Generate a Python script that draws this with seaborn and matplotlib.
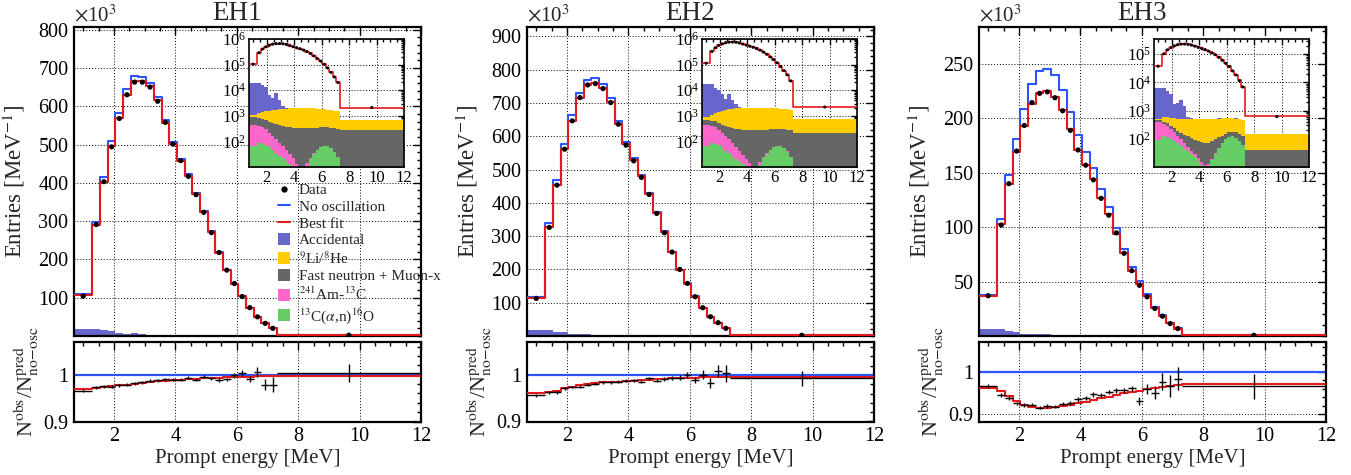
import numpy as np
import pandas as pd
import matplotlib
matplotlib.use("Agg")
import matplotlib.pyplot as plt
import seaborn as sns
from matplotlib.ticker import MultipleLocator, LogLocator, NullFormatter, FixedLocator, LogFormatterMathtext
from matplotlib.lines import Line2D
from matplotlib.patches import Patch

# ---------------- data ----------------
bin_edges = [0.7, 1.3, 1.55, 1.8, 2.05, 2.3, 2.55, 2.8, 3.05, 3.3, 3.55, 3.8, 4.05, 4.3,
             4.55, 4.8, 5.05, 5.3, 5.55, 5.8, 6.05, 6.3, 6.55, 6.8, 7.05, 7.3, 12.0]

hall_names = ["EH1", "EH2", "EH3"]

# main panel: entries per MeV (x10^3)
data_eh1 = [104, 291, 403, 494, 568, 630, 663, 663, 650, 613, 558, 501, 458, 417, 369, 323, 270, 218, 172, 137, 103, 74, 50, 33, 20, 2.1]
fit_eh1 = [106, 289, 403, 496, 570, 630, 665, 665, 652, 616, 557, 501, 457, 418, 370, 323, 272, 218, 172, 136, 104, 72, 50, 33, 20, 2.1]
nosc_eh1 = [109, 297, 414, 509, 583, 644, 678, 676, 662, 625, 564, 507, 462, 422, 373, 326, 274, 219, 173, 137, 104, 72, 50, 33, 20, 2.1]

data_eh2 = [113, 326, 453, 561, 646, 716, 754, 758, 743, 701, 636, 573, 526, 476, 425, 368, 310, 252, 200, 158, 118, 85, 58, 40, 23, 2.2]
fit_eh2 = [113, 328, 453, 561, 646, 715, 755, 760, 745, 703, 638, 576, 528, 480, 426, 370, 313, 251, 198, 157, 118, 83, 58, 38, 23, 2.2]
nosc_eh2 = [118, 340, 469, 577, 663, 731, 770, 774, 757, 714, 647, 584, 534, 485, 430, 373, 316, 253, 199, 158, 119, 83, 58, 38, 23, 2.2]

data_eh3 = [37, 102, 140, 170, 193.5, 214.5, 223, 224.4, 219, 207, 189, 171, 157, 143.5, 126.5, 111, 94.8, 76, 60, 46.6, 36, 25.3, 18.2, 11.4, 6.8, 0.61]
fit_eh3 = [36.7, 102.5, 140, 169, 193, 213, 223.5, 225, 220, 208, 190, 171, 157, 144, 126.5, 112, 94, 76, 60, 48, 36.7, 25.3, 18.2, 12, 6.8, 0.63]
nosc_eh3 = [38.1, 107.3, 148.3, 181.5, 209, 232, 244, 245.5, 240, 226, 206, 184.7, 168.8, 154, 135, 119, 99.4, 80, 63, 50.2, 38.3, 26.3, 18.9, 12.4, 7.0, 0.65]

# ratio panel: N_obs / N_pred(no-osc)
rdata_eh1 = [0.966, 0.973, 0.975, 0.974, 0.977, 0.979, 0.982, 0.984, 0.987, 0.988, 0.990, 0.989, 0.989, 0.994, 0.989, 0.996, 0.992, 0.989, 0.990, 0.999, 1.004, 0.991, 1.006, 0.979, 0.979, 1.004]
rerr_eh1 = [0.003, 0.003, 0.003, 0.003, 0.003, 0.003, 0.003, 0.003, 0.003, 0.003, 0.003, 0.003, 0.003, 0.003, 0.003, 0.003, 0.004, 0.004, 0.004, 0.005, 0.006, 0.007, 0.011, 0.012, 0.016, 0.019]
rfit_eh1 = [0.969, 0.972, 0.974, 0.975, 0.977, 0.979, 0.981, 0.983, 0.985, 0.986, 0.987, 0.988, 0.989, 0.990, 0.991, 0.992, 0.993, 0.994, 0.995, 0.995, 0.996, 0.996, 0.997, 0.997, 0.998, 0.998]

rdata_eh2 = [0.956, 0.963, 0.963, 0.971, 0.974, 0.975, 0.979, 0.981, 0.984, 0.984, 0.986, 0.988, 0.989, 0.986, 0.993, 0.988, 0.991, 0.994, 0.994, 1.000, 0.989, 1.001, 0.982, 1.009, 1.004, 0.993]
rerr_eh2 = [0.003, 0.003, 0.003, 0.003, 0.003, 0.003, 0.003, 0.003, 0.003, 0.003, 0.003, 0.003, 0.003, 0.003, 0.003, 0.004, 0.004, 0.004, 0.005, 0.007, 0.007, 0.009, 0.011, 0.013, 0.018, 0.016]
rfit_eh2 = [0.961, 0.964, 0.966, 0.972, 0.975, 0.978, 0.980, 0.982, 0.984, 0.985, 0.986, 0.987, 0.988, 0.989, 0.990, 0.991, 0.992, 0.993, 0.993, 0.994, 0.994, 0.995, 0.995, 0.996, 0.996, 0.996]

rdata_eh3 = [0.966, 0.945, 0.939, 0.926, 0.922, 0.923, 0.916, 0.920, 0.918, 0.924, 0.927, 0.935, 0.938, 0.947, 0.945, 0.953, 0.957, 0.957, 0.961, 0.932, 0.959, 0.951, 0.977, 0.967, 0.984, 0.966]
rerr_eh3 = [0.005, 0.005, 0.005, 0.004, 0.004, 0.004, 0.004, 0.004, 0.004, 0.004, 0.004, 0.005, 0.005, 0.005, 0.005, 0.005, 0.006, 0.006, 0.007, 0.009, 0.012, 0.016, 0.020, 0.025, 0.027, 0.030]
rfit_eh3 = [0.9625, 0.955, 0.944, 0.931, 0.923, 0.918, 0.916, 0.916, 0.917, 0.919, 0.922, 0.926, 0.930, 0.934, 0.938, 0.942, 0.946, 0.950, 0.953, 0.956, 0.959, 0.962, 0.965, 0.967, 0.969, 0.972]

# backgrounds: entries per MeV
alphan_eh1 = [68, 90, 88, 74, 58, 45, 35, 27, 22, 17, 13, 10, 5, 3, 4, 10, 20, 33, 45, 58, 66, 68, 55, 38, 25, 1]
amc_eh1 = [380, 300, 270, 220, 160, 120, 90, 62, 42, 28, 18, 12, 8, 6, 5, 4, 3, 2.5, 2, 1.6, 1.3, 1, 0.8, 0.6, 0.5, 0.1]
fastn_eh1 = [420, 400, 380, 365, 355, 350, 345, 340, 335, 330, 325, 320, 318, 315, 312, 310, 305, 302, 300, 298, 295, 292, 290, 288, 285, 275]
lihe_eh1 = [250, 480, 650, 850, 1000, 1150, 1280, 1380, 1460, 1530, 1580, 1620, 1650, 1660, 1660, 1650, 1630, 1600, 1560, 1510, 1450, 1390, 1320, 1250, 1180, 430]
acc_eh1 = [17600, 17200, 14600, 11500, 5000, 3200, 5800, 2500, 600, 150, 60, 30, 20, 15, 10, 8, 6, 5, 4, 3, 3, 2, 2, 2, 2, 1]

alphan_eh2 = [66, 84, 82, 70, 55, 42, 34, 27, 21, 17, 13, 10, 6, 4, 5, 12, 22, 33, 46, 58, 65, 66, 55, 40, 25, 1]
amc_eh2 = [390, 310, 280, 220, 160, 120, 85, 58, 38, 25, 16, 11, 8, 6, 5, 4, 3, 2.5, 2, 1.6, 1.3, 1, 0.8, 0.6, 0.5, 0.1]
fastn_eh2 = [260, 250, 245, 240, 240, 242, 245, 248, 250, 252, 255, 256, 258, 258, 258, 257, 256, 255, 254, 252, 250, 248, 246, 244, 242, 220]
lihe_eh2 = [200, 480, 650, 900, 1100, 1300, 1420, 1530, 1620, 1690, 1740, 1760, 1770, 1770, 1770, 1760, 1750, 1730, 1700, 1660, 1620, 1570, 1520, 1480, 1440, 500]
acc_eh2 = [16800, 15900, 11000, 9200, 5300, 3000, 5400, 2400, 850, 150, 60, 30, 20, 15, 10, 8, 6, 5, 4, 3, 3, 2, 2, 2, 2, 1]

alphan_eh3 = [92, 128, 120, 100, 82, 68, 56, 45, 36, 28, 22, 16, 12, 10, 11, 18, 30, 48, 70, 95, 115, 125, 110, 85, 60, 1]
amc_eh3 = [290, 210, 170, 125, 90, 60, 40, 25, 15, 9, 6, 4, 3, 2, 1.5, 1.2, 1, 0.8, 0.6, 0.5, 0.4, 0.3, 0.3, 0.2, 0.2, 0.05]
fastn_eh3 = [70, 68, 67, 66, 66, 67, 68, 70, 70, 68, 66, 64, 62, 60, 60, 62, 64, 62, 58, 55, 55, 55, 60, 65, 65, 40]
lihe_eh3 = [60, 170, 230, 270, 300, 325, 340, 350, 370, 390, 405, 420, 425, 428, 428, 426, 420, 410, 398, 385, 370, 360, 350, 345, 340, 110]
acc_eh3 = [5950, 5560, 4350, 3150, 1100, 1260, 1770, 950, 110, 40, 20, 12, 8, 6, 5, 4, 3, 3, 2, 2, 2, 1.5, 1.5, 1.5, 1.5, 0.5]

bkg_labels = ["Accidental", r"$^{9}$Li/$^{8}$He", "Fast neutron + Muon-x",
              r"$^{241}$Am-$^{13}$C", r"$^{13}$C($\alpha$,n)$^{16}$O"]
main_yticks_eh1 = [100, 200, 300, 400, 500, 600, 700, 800]
main_yticks_eh2 = [100, 200, 300, 400, 500, 600, 700, 800, 900]
main_yticks_eh3 = [50, 100, 150, 200, 250]
inset_yticks = [1e2, 1e3, 1e4, 1e5, 1e6]

# ---------------- style ----------------
sns.set_theme(style="white")
plt.rcParams["font.family"] = ["Liberation Serif", "DejaVu Serif"]
plt.rcParams["mathtext.fontset"] = "stix"

C_ACC = "#6666cc"
C_LI = "#ffcc00"
C_FN = "#666666"
C_AMC = "#ff66cc"
C_AN = "#66cc66"
C_BLUE = "#2a55ff"
C_RED = "#e3191c"
GRID_KW = dict(color="black", linestyle=(0, (1, 2)), linewidth=0.7)

edges = np.array(bin_edges)
centers = 0.5 * (edges[1:] + edges[:-1])
halfw = 0.5 * (edges[1:] - edges[:-1])


def ext(v):
    v = np.asarray(v, float)
    return np.append(v, v[-1])


halls = [
    dict(name="EH1", data=data_eh1, fit=fit_eh1, nosc=nosc_eh1, rdata=rdata_eh1, rerr=rerr_eh1,
         rfit=rfit_eh1, bkg=[alphan_eh1, amc_eh1, fastn_eh1, lihe_eh1, acc_eh1],
         yticks=main_yticks_eh1, ytop=807, rlim=(0.9, 1.071), itop=1.0e6, left=74, ileft=249, legend=True),
    dict(name="EH2", data=data_eh2, fit=fit_eh2, nosc=nosc_eh2, rdata=rdata_eh2, rerr=rerr_eh2,
         rfit=rfit_eh2, bkg=[alphan_eh2, amc_eh2, fastn_eh2, lihe_eh2, acc_eh2],
         yticks=main_yticks_eh2, ytop=928, rlim=(0.9, 1.072), itop=1.0e6, left=527, ileft=702, legend=False),
    dict(name="EH3", data=data_eh3, fit=fit_eh3, nosc=nosc_eh3, rdata=rdata_eh3, rerr=rerr_eh3,
         rfit=rfit_eh3, bkg=[alphan_eh3, amc_eh3, fastn_eh3, lihe_eh3, acc_eh3],
         yticks=main_yticks_eh3, ytop=284, rlim=(0.883, 1.072), itop=3.4e5, left=979, ileft=1154, legend=False),
]

W, H = 1351, 475
fig = plt.figure(figsize=(W / 100, H / 100), dpi=100)
fig.patch.set_facecolor("white")

bkg_colors = [C_AN, C_AMC, C_FN, C_LI, C_ACC]


def style_ticks(ax, size, major=6, minor=3):
    ax.tick_params(axis="both", which="both", direction="in", top=True, right=True,
                   labelsize=size, width=1.0, colors="black", pad=4)
    ax.tick_params(axis="both", which="major", length=major)
    ax.tick_params(axis="both", which="minor", length=minor)
    for s in ax.spines.values():
        s.set_linewidth(1.6)
        s.set_color("black")


def draw_stack(ax, bkg, scale, floor):
    cum = np.zeros(len(edges) - 1)
    for vals, col in zip(bkg, bkg_colors):
        top = cum + np.asarray(vals, float) / scale
        ax.fill_between(edges, np.maximum(ext(cum), floor), ext(top), step="post",
                        color=col, linewidth=0, zorder=1)
        cum = top


for h in halls:
    ax = fig.add_axes([h["left"] / W, 1 - 336 / H, 347 / W, 309 / H])
    rax = fig.add_axes([h["left"] / W, 1 - 421.5 / H, 347 / W, 80 / H])
    iax = fig.add_axes([h["ileft"] / W, 1 - 167 / H, 155 / W, 128 / H])

    # ---- main panel ----
    draw_stack(ax, h["bkg"], 1000.0, 0.0)
    sns.lineplot(x=edges, y=ext(h["nosc"]), drawstyle="steps-post", color=C_BLUE,
                 linewidth=1.5, ax=ax, zorder=3, estimator=None)
    sns.lineplot(x=edges, y=ext(h["fit"]), drawstyle="steps-post", color=C_RED,
                 linewidth=1.5, ax=ax, zorder=4, estimator=None)
    sns.scatterplot(x=centers, y=h["data"], color="black", s=14, edgecolor="none",
                    ax=ax, zorder=5)
    ax.set_xlim(0.7, 12)
    ax.set_ylim(0, h["ytop"])
    ax.set_axisbelow(True)
    ax.grid(True, which="major", **GRID_KW)
    ax.xaxis.set_major_locator(MultipleLocator(2))
    ax.xaxis.set_minor_locator(MultipleLocator(0.5))
    ax.yaxis.set_major_locator(FixedLocator(h["yticks"]))
    step = h["yticks"][1] - h["yticks"][0]
    ax.yaxis.set_minor_locator(MultipleLocator(step / 5))
    style_ticks(ax, 14.5)
    ax.tick_params(labelbottom=False)
    ax.set_xlabel("")
    ax.set_ylabel(r"Entries [MeV$^{-1}$]", fontsize=16.5)
    ax.yaxis.set_label_coords(-0.135, 0.5)
    ax.text(0.47, 1.004, h["name"], transform=ax.transAxes, ha="center", va="bottom",
            fontsize=19.5)
    ax.text(0.0, 1.004, r"$\times$10$^{3}$", transform=ax.transAxes, ha="left",
            va="bottom", fontsize=15)

    if h["legend"]:
        handles = [
            Line2D([], [], marker="o", color="black", linestyle="none", markersize=3.5),
            Line2D([], [], color=C_BLUE, linewidth=1.5),
            Line2D([], [], color=C_RED, linewidth=1.5),
            Patch(facecolor=C_ACC, edgecolor="none"),
            Patch(facecolor=C_LI, edgecolor="none"),
            Patch(facecolor=C_FN, edgecolor="none"),
            Patch(facecolor=C_AMC, edgecolor="none"),
            Patch(facecolor=C_AN, edgecolor="none"),
        ]
        labels = ["Data", "No oscillation", "Best fit"] + bkg_labels
        ax.legend(handles, labels, loc="upper left", bbox_to_anchor=(0.588, 0.495),
                  frameon=False, fontsize=11, handlelength=0.8, handleheight=0.8,
                  handletextpad=0.55, labelspacing=0.17, borderaxespad=0.0,
                  borderpad=0.0)
    elif ax.get_legend() is not None:
        ax.get_legend().remove()

    # ---- inset (log) ----
    iax.set_facecolor("white")
    iax.set_yscale("log")
    draw_stack(iax, h["bkg"], 1.0, 1e-2)
    sns.lineplot(x=edges, y=ext(h["fit"]) * 1000, drawstyle="steps-post", color=C_RED,
                 linewidth=1.2, ax=iax, zorder=4, estimator=None)
    sns.scatterplot(x=centers, y=np.asarray(h["data"]) * 1000, color="black", s=5,
                    edgecolor="none", ax=iax, zorder=5)
    iax.set_xlim(0.7, 12)
    iax.set_ylim(10, h["itop"])
    iax.set_axisbelow(True)
    iax.grid(True, which="major", **GRID_KW)
    iax.xaxis.set_major_locator(MultipleLocator(2))
    iax.xaxis.set_minor_locator(MultipleLocator(0.5))
    iax.yaxis.set_major_locator(FixedLocator([t for t in inset_yticks if t <= h["itop"]]))
    iax.yaxis.set_major_formatter(LogFormatterMathtext())
    iax.yaxis.set_minor_locator(LogLocator(base=10, subs=np.arange(2, 10), numticks=10))
    iax.yaxis.set_minor_formatter(NullFormatter())
    style_ticks(iax, 12, major=4, minor=2)
    iax.tick_params(axis="both", which="major", pad=2)
    for s in iax.spines.values():
        s.set_linewidth(1.2)
    iax.set_xlabel("")
    iax.set_ylabel("")

    # ---- ratio panel ----
    rax.axhline(1.0, color=C_BLUE, linewidth=1.6, zorder=2)
    sns.lineplot(x=edges, y=ext(h["rfit"]), drawstyle="steps-post", color=C_RED,
                 linewidth=1.5, ax=rax, zorder=3, estimator=None)
    rax.errorbar(centers, h["rdata"], xerr=halfw, yerr=h["rerr"], fmt="none",
                 ecolor="black", elinewidth=1.0, capsize=0, zorder=4)
    rax.set_xlim(0.7, 12)
    rax.set_ylim(*h["rlim"])
    rax.set_axisbelow(True)
    rax.grid(True, which="major", **GRID_KW)
    rax.xaxis.set_major_locator(MultipleLocator(2))
    rax.xaxis.set_minor_locator(MultipleLocator(0.5))
    rax.yaxis.set_major_locator(FixedLocator([0.9, 1.0]))
    rax.yaxis.set_minor_locator(MultipleLocator(0.02))
    rax.set_yticklabels(["0.9", "1"])
    style_ticks(rax, 14.5, major=6, minor=3)
    rax.set_xlabel("Prompt energy [MeV]", fontsize=15, labelpad=2)
    rax.set_ylabel(r"N$^{\mathrm{obs}}$/N$^{\mathrm{pred}}_{\mathrm{no\!-\!osc}}$",
                   fontsize=16)
    rax.yaxis.set_label_coords(-0.095, 0.5)

fig.savefig("out.png", dpi=100, facecolor="white")
